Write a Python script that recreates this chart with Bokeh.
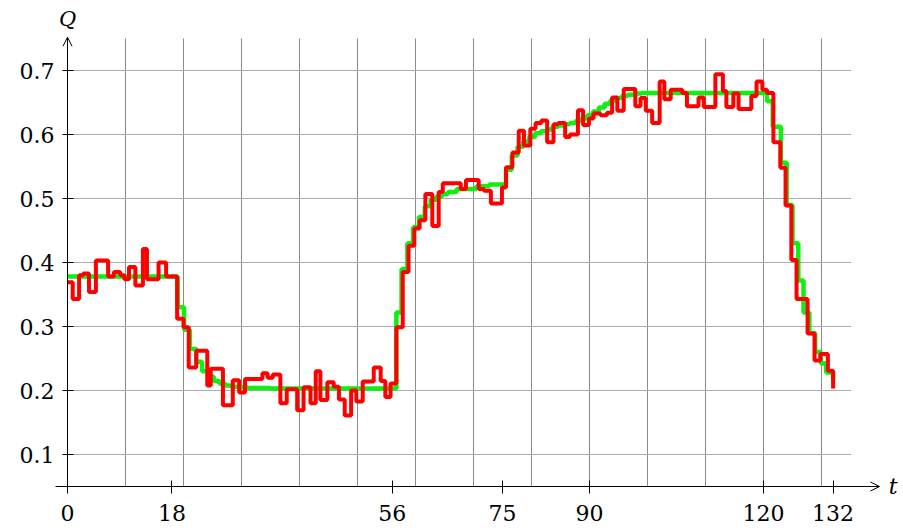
from bokeh.plotting import figure
from bokeh.models import Range1d, LinearAxis, FixedTicker, Arrow, OpenHead, Label
from bokeh.embed import file_html
from bokeh.resources import INLINE

# ---- data ----
red_t = [0.0, 0.9, 2.0, 2.7, 3.7, 4.9, 7.0, 8.0, 9.1, 9.8, 10.6, 11.7, 13.0, 13.7, 15.7, 17.0,
         18.9, 20.0, 20.9, 22.2, 24.1, 24.7, 26.8, 28.5, 29.6, 30.6, 33.6, 34.5, 35.4, 36.7,
         37.8, 39.6, 40.7, 41.9, 42.8, 43.6, 44.8, 45.9, 46.8, 47.8, 48.9, 49.8, 50.9, 52.8,
         54.0, 54.8, 55.7, 56.7, 57.8, 58.8, 59.8, 60.7, 61.7, 62.9, 64.0, 64.7, 67.8, 68.7,
         70.9, 71.8, 73.0, 74.9, 75.6, 76.7, 77.8, 78.7, 79.8, 80.7, 81.7, 82.7, 83.8, 84.6,
         85.8, 86.6, 88.0, 88.9, 89.9, 90.7, 91.9, 93.0, 93.9, 94.8, 95.9, 97.9, 98.8, 99.7,
         100.8, 102.1, 102.9, 104.0, 106.0, 106.8, 108.8, 109.7, 111.7, 113.0, 113.6, 114.8,
         115.7, 117.9, 118.8, 119.8, 120.6, 121.7, 122.9, 123.8, 124.8, 125.7, 127.6, 128.8,
         129.8, 131.1, 132.0]
red_q = [0.369, 0.343, 0.380, 0.383, 0.354, 0.403, 0.378, 0.385, 0.380, 0.374, 0.393, 0.364,
         0.421, 0.374, 0.400, 0.378, 0.312, 0.299, 0.236, 0.262, 0.208, 0.234, 0.177, 0.216,
         0.197, 0.218, 0.227, 0.220, 0.225, 0.180, 0.202, 0.169, 0.205, 0.180, 0.230, 0.185,
         0.213, 0.206, 0.186, 0.161, 0.200, 0.183, 0.214, 0.236, 0.215, 0.190, 0.211, 0.299,
         0.385, 0.426, 0.453, 0.466, 0.507, 0.457, 0.510, 0.524, 0.515, 0.529, 0.515, 0.512,
         0.492, 0.517, 0.549, 0.572, 0.606, 0.583, 0.609, 0.618, 0.622, 0.588, 0.616, 0.618,
         0.596, 0.600, 0.638, 0.615, 0.625, 0.633, 0.630, 0.634, 0.658, 0.637, 0.671, 0.644,
         0.657, 0.637, 0.618, 0.683, 0.655, 0.670, 0.665, 0.644, 0.658, 0.643, 0.694, 0.668,
         0.643, 0.664, 0.640, 0.660, 0.683, 0.670, 0.665, 0.588, 0.548, 0.489, 0.404, 0.343,
         0.289, 0.247, 0.257, 0.231, 0.203]

green_t = [0.0, 19.0, 20.1, 21.1, 22.2, 23.2, 24.2, 25.2, 26.2, 27.2, 28.2, 29.5, 31.0, 35.0,
           56.7, 57.6, 58.6, 59.6, 60.6, 61.6, 62.6, 63.6, 64.6, 65.6, 67.1, 70.5, 72.7, 75.6,
           76.6, 77.6, 78.6, 79.6, 80.6, 81.6, 82.6, 83.6, 84.6, 85.6, 86.6, 87.6, 88.6, 89.6,
           90.6, 91.6, 92.6, 93.6, 94.6, 95.6, 96.6, 97.6, 99.0, 120.6, 121.6, 123.0, 124.0,
           125.0, 126.0, 126.9, 127.9, 128.9, 129.9, 130.8, 132.0]
green_q = [0.378, 0.330, 0.295, 0.265, 0.245, 0.230, 0.222, 0.215, 0.211, 0.208, 0.206, 0.205,
           0.204, 0.203, 0.322, 0.390, 0.430, 0.455, 0.471, 0.488, 0.498, 0.503, 0.507, 0.510,
           0.515, 0.519, 0.522, 0.545, 0.567, 0.581, 0.589, 0.596, 0.602, 0.605, 0.608, 0.612,
           0.614, 0.616, 0.618, 0.621, 0.625, 0.630, 0.636, 0.642, 0.648, 0.653, 0.657, 0.660,
           0.662, 0.664, 0.665, 0.652, 0.612, 0.556, 0.490, 0.430, 0.372, 0.322, 0.290, 0.260,
           0.242, 0.228, 0.215]

x_ticks = [0, 18, 56, 75, 90, 120, 132]
y_ticks = [0.1, 0.2, 0.3, 0.4, 0.5, 0.6, 0.7]
y_tick_labels = ["0.1", "0.2", "0.3", "0.4", "0.5", "0.6", "0.7"]
x_grid = [0, 10, 20, 30, 40, 50, 60, 70, 80, 90, 100, 110, 120, 130]
y_grid = [0.1, 0.2, 0.3, 0.4, 0.5, 0.6, 0.7]

T_MIN, T_GRID_END, T_AXIS_END = -2.07, 135.1, 140.0
Q_MIN, Q_GRID_END, Q_AXIS_END = 0.05, 0.75, 0.752

FONT = "DejaVu Serif"
W, H = 903, 528
ORIGIN_X, ORIGIN_Y = 67, 486      # pixel position of (t=0, Q=0.05)
PX_T, PX_Q = 5.8, 640.0

p = figure(width=W, height=H,
           x_range=Range1d(-ORIGIN_X / PX_T, (W - ORIGIN_X) / PX_T),
           y_range=Range1d(Q_MIN - (H - ORIGIN_Y) / PX_Q, Q_MIN + ORIGIN_Y / PX_Q),
           output_backend="svg", toolbar_location=None,
           x_axis_type=None, y_axis_type=None,
           min_border_left=0, min_border_right=0, min_border_top=0, min_border_bottom=0,
           outline_line_color=None, background_fill_color="white")

# grid
p.segment(x0=x_grid, y0=[Q_MIN] * len(x_grid), x1=x_grid, y1=[Q_GRID_END] * len(x_grid),
          line_color="#8a8a8a", line_width=1)
p.segment(x0=[0] * len(y_grid), y0=y_grid, x1=[T_GRID_END] * len(y_grid), y1=y_grid,
          line_color="#ababab", line_width=1)

# series
p.step(green_t, green_q, mode="after", line_color="#11ee11", line_width=4.5)
p.step(red_t, red_q, mode="after", line_color="#ff0000", line_width=4)

# axes (ticks + labels), placed at the origin
xa = LinearAxis(ticker=FixedTicker(ticks=x_ticks),
                major_label_overrides={t: str(t) for t in x_ticks})
xa.fixed_location = Q_MIN
xa.axis_line_color = None
xa.major_tick_in = 6
xa.major_tick_out = 7
xa.minor_tick_line_color = None
xa.major_tick_line_color = "black"
xa.major_label_text_font = FONT
xa.major_label_text_font_size = "22px"
xa.major_label_text_color = "black"
xa.major_label_standoff = 11
p.add_layout(xa, "below")

ya = LinearAxis(ticker=FixedTicker(ticks=y_ticks),
                major_label_overrides={t: s for t, s in zip(y_ticks, y_tick_labels)})
ya.fixed_location = 0
ya.axis_line_color = None
ya.major_tick_in = 6
ya.major_tick_out = 5
ya.minor_tick_line_color = None
ya.major_tick_line_color = "black"
ya.major_label_text_font = FONT
ya.major_label_text_font_size = "22px"
ya.major_label_text_color = "black"
ya.major_label_standoff = 8
p.add_layout(ya, "left")

# axis lines with arrow heads
p.add_layout(Arrow(end=OpenHead(size=9, line_width=1, line_color="black"),
                   x_start=T_MIN, y_start=Q_MIN, x_end=T_AXIS_END, y_end=Q_MIN,
                   line_width=1, line_color="black"))
p.add_layout(Arrow(end=OpenHead(size=9, line_width=1, line_color="black"),
                   x_start=0, y_start=0.04, x_end=0, y_end=Q_AXIS_END,
                   line_width=1, line_color="black"))

# axis names
p.add_layout(Label(x=0, y=0.78, text="Q", text_font=FONT, text_font_style="italic",
                   text_font_size="21px", text_align="center", text_baseline="middle",
                   text_color="black"))
p.add_layout(Label(x=141.6, y=Q_MIN, text="t", text_font=FONT, text_font_style="italic",
                   text_font_size="22px", text_align="left", text_baseline="middle",
                   text_color="black"))

open("out.html", "w").write(file_html(p, INLINE))
